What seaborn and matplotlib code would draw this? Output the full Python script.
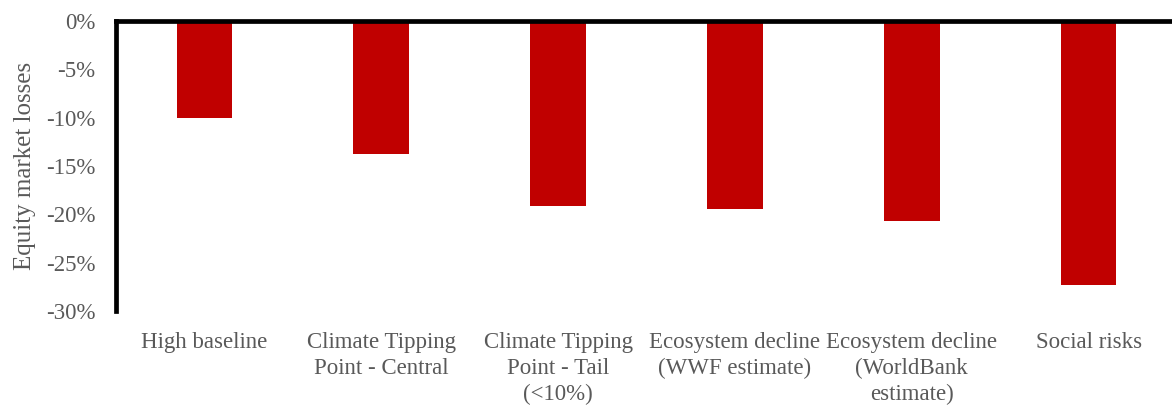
import matplotlib
matplotlib.use("Agg")
import matplotlib.pyplot as plt
from matplotlib.ticker import FuncFormatter, MultipleLocator
import seaborn as sns
import pandas as pd

# Scenario categories and equity market losses (percent)
categories = [
    "High baseline",
    "Climate Tipping\nPoint - Central",
    "Climate Tipping\nPoint - Tail\n(<10%)",
    "Ecosystem decline\n(WWF estimate)",
    "Ecosystem decline\n(WorldBank\nestimate)",
    "Social risks",
]
losses = [-10.0, -13.8, -19.1, -19.4, -20.7, -27.3]

BAR_RED = "#C00000"
TEXT_GREY = "#595959"

sns.set_theme(style="white")
plt.rcParams["font.family"] = ["Liberation Serif", "DejaVu Serif"]

df = pd.DataFrame({"scenario": categories, "loss": losses})

fig = plt.figure(figsize=(11.72, 4.05), dpi=100)
ax = fig.add_axes([116 / 1172, 1 - 311 / 405, 1061 / 1172, 290 / 405])

sns.barplot(data=df, x="scenario", y="loss", color=BAR_RED, width=0.314,
            saturation=1, ax=ax, edgecolor="none")

ax.set_ylim(-30, 0)
ax.set_xlim(-0.5, 5.5)
ax.yaxis.set_major_locator(MultipleLocator(5))
ax.yaxis.set_major_formatter(FuncFormatter(lambda v, _: f"{v:.0f}%"))

ax.set_xlabel("")
ax.set_ylabel("Equity market losses", color=TEXT_GREY, fontsize=18)
ax.yaxis.set_label_coords(-0.075, 0.5)

for side in ("right", "bottom"):
    ax.spines[side].set_visible(False)
for side in ("top", "left"):
    ax.spines[side].set_visible(True)
    ax.spines[side].set_color("black")
    ax.spines[side].set_linewidth(3.4)
    ax.spines[side].set_zorder(5)
    ax.spines[side].set_capstyle("projecting")

ax.tick_params(axis="y", length=0, colors=TEXT_GREY, labelsize=16.5, pad=15)
ax.tick_params(axis="x", length=0, colors=TEXT_GREY, labelsize=16.5, pad=15)
for lbl in ax.get_xticklabels():
    lbl.set_linespacing(1.32)
    lbl.set_multialignment("center")
    lbl.set_verticalalignment("top")

fig.savefig("out.png", dpi=100, facecolor="white")
